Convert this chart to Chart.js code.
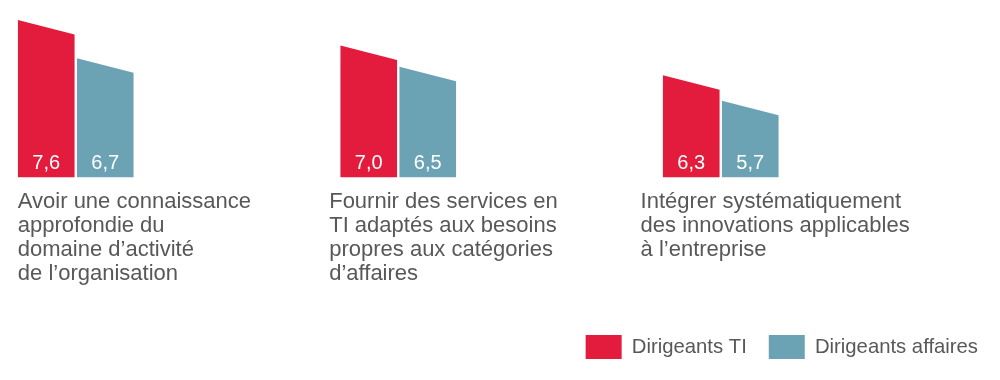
<!DOCTYPE html>
<html>
<head>
<meta charset="utf-8">
<script src="https://cdn.jsdelivr.net/npm/chart.js"></script>
<style>
html,body{margin:0;padding:0;background:#ffffff;}
#wrap{position:relative;width:1000px;height:380px;}
</style>
</head>
<body>
<div id="wrap"><canvas id="chart"></canvas></div>
<script>
// ---- data ----
const categories = [
  ["Avoir une connaissance", "approfondie du", "domaine d’activité", "de l’organisation"],
  ["Fournir des services en", "TI adaptés aux besoins", "propres aux catégories", "d’affaires"],
  ["Intégrer systématiquement", "des innovations applicables", "à l’entreprise"]
];
const seriesNames = ["Dirigeants TI", "Dirigeants affaires"];
const dirigeantsTI = [7.6, 7.0, 6.3];
const dirigeantsAffaires = [6.7, 6.5, 5.7];
const yRange = [3.9, 8.0];

// ---- styles ----
const RED = "#e31b3c";
const BLUE = "#6ba3b5";
const TEXT = "#58585a";
const FONT = "'Liberation Sans', Arial, Helvetica, sans-serif";
const SLANT = 0.255;

// helper empty slots so that the two bars sit at the left of each category
const spacer = () => ({ label: "", data: categories.map(() => null), backgroundColor: "rgba(0,0,0,0)", isSpacer: true });

const slantedBars = {
  id: "slantedBars",
  beforeDatasetDraw(chart, args) {
    const ds = chart.data.datasets[args.index];
    if (ds.isSpacer) return false;
    const ctx = chart.ctx;
    ctx.save();
    args.meta.data.forEach((el, i) => {
      const v = ds.data[i];
      if (v === null || v === undefined) return;
      const p = el.getProps(["x", "y", "base", "width"], true);
      const l = p.x - p.width / 2, r = p.x + p.width / 2;
      const drop = p.width * SLANT;
      ctx.beginPath();
      ctx.moveTo(l, p.base);
      ctx.lineTo(l, p.y);
      ctx.lineTo(r, p.y + drop);
      ctx.lineTo(r, p.base);
      ctx.closePath();
      ctx.fillStyle = ds.backgroundColor;
      ctx.fill();
      ctx.fillStyle = "#ffffff";
      ctx.font = "20px " + FONT;
      ctx.textAlign = "center";
      ctx.textBaseline = "alphabetic";
      ctx.fillText(v.toFixed(1).replace(".", ","), p.x, p.base - 8);
    });
    ctx.restore();
    return false;
  }
};

new Chart(document.getElementById("chart"), {
  type: "bar",
  data: {
    labels: categories.map(c => c.join(" ")),
    datasets: [
      { label: seriesNames[0], data: dirigeantsTI, backgroundColor: RED, base: yRange[0] },
      { label: seriesNames[1], data: dirigeantsAffaires, backgroundColor: BLUE, base: yRange[0] },
      spacer(), spacer(), spacer(), spacer()
    ]
  },
  options: {
    responsive: true,
    maintainAspectRatio: false,
    devicePixelRatio: 1,
    animation: false,
    categoryPercentage: 1.0977,
    barPercentage: 0.96,
    layout: { padding: { left: 32.5, right: 0, top: 3, bottom: 11 } },
    scales: {
      x: { type: "category", display: false },
      x2: {
        type: "linear",
        position: "bottom",
        offset: false,
        min: 0,
        max: 3.107,
        afterBuildTicks: (s) => { s.ticks = categories.map((_, i) => ({ value: i })); },
        grid: { display: false, drawTicks: false, offset: false },
        border: { display: false },
        title: { display: true, text: "", padding: 0, font: { size: 13.75, lineHeight: 1 } },
        ticks: {
          autoSkip: false,
          maxRotation: 0,
          minRotation: 0,
          align: "start",
          labelOffset: -14.7,
          padding: 13,
          color: TEXT,
          font: { family: FONT, size: 22, lineHeight: "24px" },
          callback: (v, i) => categories[i]
        }
      },
      y: { display: false, min: yRange[0], max: yRange[1] }
    },
    plugins: {
      tooltip: { enabled: false },
      legend: {
        position: "bottom",
        align: "end",
        labels: {
          boxWidth: 36,
          boxHeight: 24,
          padding: 22,
          color: TEXT,
          font: { family: FONT, size: 20.3 },
          filter: (item, data) => !data.datasets[item.datasetIndex].isSpacer
        }
      }
    }
  },
  plugins: [slantedBars]
});
</script>
</body>
</html>
